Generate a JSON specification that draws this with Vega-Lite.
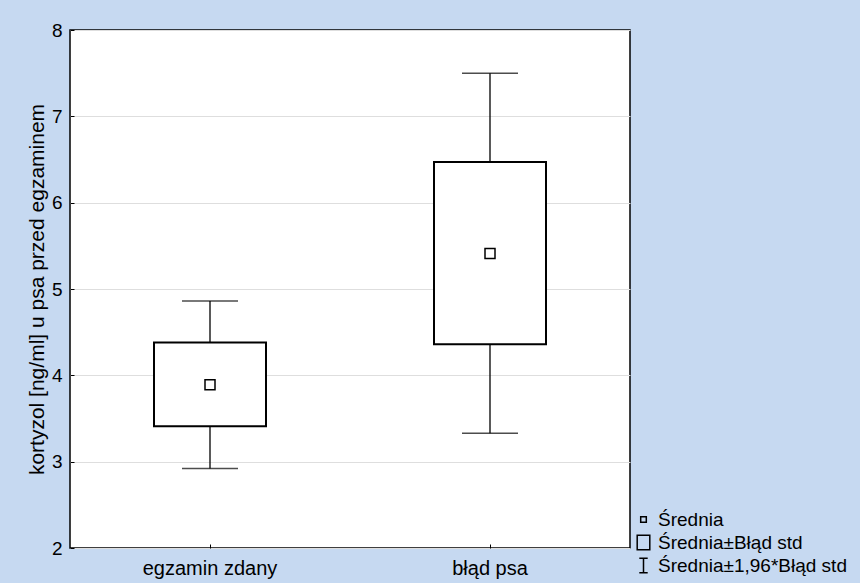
{
  "$schema": "https://vega.github.io/schema/vega-lite/v6.json",
  "width": 560,
  "height": 518,
  "autosize": {"type": "none"},
  "padding": {"left": 70, "top": 30, "right": 230, "bottom": 35},
  "background": "#c6d9f1",
  "view": {"fill": "white", "stroke": "black", "strokeWidth": 1.5},
  "config": {
    "font": "Liberation Sans",
    "axis": {
      "labelFont": "Liberation Sans",
      "titleFont": "Liberation Sans",
      "labelColor": "black",
      "titleColor": "black",
      "labelFontSize": 19,
      "titleFontSize": 21,
      "titleFontWeight": "normal",
      "domain": false,
      "tickColor": "black",
      "tickWidth": 1
    },
    "legend": {
      "labelFont": "Liberation Sans",
      "labelFontSize": 19,
      "labelColor": "black",
      "labelLimit": 400
    }
  },
  "datasets": {
    "stats": [
      {"grupa": "egzamin zdany", "srednia": 3.89, "se_lo": 3.41, "se_hi": 4.38, "ci_lo": 2.92, "ci_hi": 4.86},
      {"grupa": "błąd psa", "srednia": 5.41, "se_lo": 4.36, "se_hi": 6.47, "ci_lo": 3.33, "ci_hi": 7.5}
    ],
    "legenda": [
      {"opis": "Średnia"},
      {"opis": "Średnia±Błąd std"},
      {"opis": "Średnia±1,96*Błąd std"}
    ]
  },
  "layer": [
    {
      "data": {"name": "stats"},
      "mark": {"type": "rule", "color": "black", "strokeWidth": 1.3},
      "encoding": {
        "x": {
          "field": "grupa",
          "type": "nominal",
          "sort": ["egzamin zdany", "błąd psa"],
          "scale": {"paddingInner": 0, "paddingOuter": 0},
          "axis": {
            "title": null,
            "labelAngle": 0,
            "labelFontSize": 20,
            "tickSize": -4,
            "labelPadding": 14,
            "grid": false
          }
        },
        "y": {
          "field": "ci_lo",
          "type": "quantitative",
          "scale": {"domain": [2, 8], "nice": false, "zero": false},
          "axis": {
            "title": "kortyzol [ng/ml] u psa przed egzaminem",
            "values": [2, 3, 4, 5, 6, 7, 8],
            "format": "d",
            "grid": true,
            "gridColor": "#dedede",
            "gridWidth": 1,
            "tickSize": -4,
            "labelPadding": 12,
            "titlePadding": 4
          }
        },
        "y2": {"field": "ci_hi"}
      }
    },
    {
      "data": {"name": "stats"},
      "mark": {"type": "tick", "orient": "horizontal", "color": "black", "size": 56, "thickness": 1.5},
      "encoding": {
        "x": {"field": "grupa", "type": "nominal", "sort": ["egzamin zdany", "błąd psa"]},
        "y": {"field": "ci_lo", "type": "quantitative"}
      }
    },
    {
      "data": {"name": "stats"},
      "mark": {"type": "tick", "orient": "horizontal", "color": "black", "size": 56, "thickness": 1.5},
      "encoding": {
        "x": {"field": "grupa", "type": "nominal", "sort": ["egzamin zdany", "błąd psa"]},
        "y": {"field": "ci_hi", "type": "quantitative"}
      }
    },
    {
      "data": {"name": "stats"},
      "mark": {"type": "bar", "width": {"band": 0.4}, "fill": "white", "stroke": "black", "strokeWidth": 2},
      "encoding": {
        "x": {"field": "grupa", "type": "nominal", "sort": ["egzamin zdany", "błąd psa"]},
        "y": {"field": "se_lo", "type": "quantitative"},
        "y2": {"field": "se_hi"}
      }
    },
    {
      "data": {"name": "stats"},
      "mark": {"type": "point", "shape": "square", "size": 100, "fill": "white", "stroke": "black", "strokeWidth": 1.5, "opacity": 1},
      "encoding": {
        "x": {"field": "grupa", "type": "nominal", "sort": ["egzamin zdany", "błąd psa"]},
        "y": {"field": "srednia", "type": "quantitative"}
      }
    },
    {
      "data": {"name": "legenda"},
      "mark": {"type": "point", "filled": false, "stroke": "black", "strokeWidth": 1.5, "opacity": 0},
      "encoding": {
        "shape": {
          "field": "opis",
          "type": "nominal",
          "scale": {
            "domain": ["Średnia", "Średnia±Błąd std", "Średnia±1,96*Błąd std"],
            "range": [
              "M-0.4,-0.4H0.4V0.4H-0.4Z",
              "M-0.9,-1.05H0.9V1.05H-0.9Z",
              "M-0.6,-1.05H0.6M0,-1.05V1.05M-0.6,1.05H0.6"
            ]
          },
          "legend": {
            "title": null,
            "orient": "none",
            "legendX": 564,
            "legendY": 480,
            "padding": 0,
            "symbolSize": 196,
            "symbolStrokeColor": "black",
            "symbolFillColor": "transparent",
            "symbolStrokeWidth": 1.5,
            "symbolOpacity": 1,
            "labelOffset": 5,
            "rowPadding": 2
          }
        }
      }
    }
  ]
}
